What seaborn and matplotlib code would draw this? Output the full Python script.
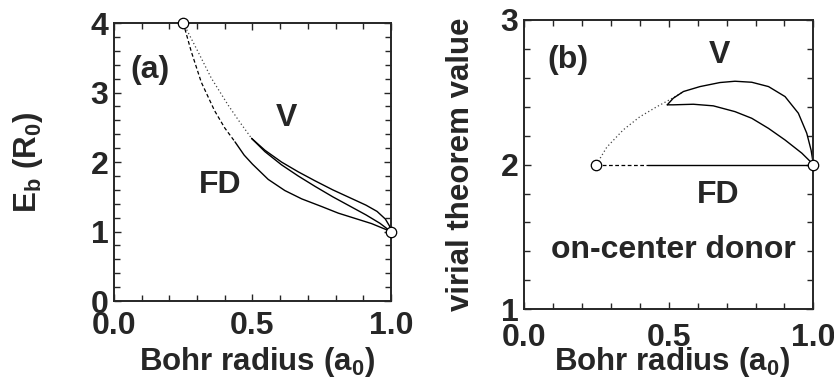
import numpy as np
import pandas as pd
import matplotlib
matplotlib.use("Agg")
import matplotlib.pyplot as plt
import seaborn as sns
from matplotlib.ticker import MultipleLocator, FormatStrFormatter

# panel (a) : binding energy vs Bohr radius
fd_dash_x = [0.25, 0.279, 0.315, 0.363, 0.40, 0.437]
fd_dash_y = [4.0, 3.59, 3.15, 2.74, 2.49, 2.29]
fd_solid_x = [0.437, 0.47, 0.50, 0.557, 0.617, 0.678, 0.75, 0.81, 0.87, 0.93, 1.0]
fd_solid_y = [2.29, 2.10, 1.97, 1.75, 1.59, 1.47, 1.36, 1.265, 1.19, 1.115, 1.0]
v_dot_x = [0.25, 0.303, 0.351, 0.412, 0.455, 0.497]
v_dot_y = [4.0, 3.59, 3.21, 2.82, 2.57, 2.34]
v_up_x = [0.497, 0.545, 0.605, 0.665, 0.726, 0.79, 0.85, 0.91, 0.95, 0.98, 0.995, 1.0]
v_up_y = [2.34, 2.17, 2.00, 1.86, 1.73, 1.60, 1.49, 1.38, 1.29, 1.18, 1.08, 1.0]
v_lo_x = [0.497, 0.545, 0.605, 0.665, 0.726, 0.79, 0.85, 0.91, 0.96, 1.0]
v_lo_y = [2.34, 2.15, 1.96, 1.80, 1.65, 1.50, 1.37, 1.24, 1.12, 1.0]
ends_a_x = [0.25, 1.0]
ends_a_y = [4.0, 1.0]

# panel (b) : virial theorem value
fdb_dash_x = [0.25, 0.43]
fdb_dash_y = [2.0, 2.0]
fdb_solid_x = [0.43, 1.0]
fdb_solid_y = [2.0, 2.0]
vb_dot_x = [0.25, 0.286, 0.343, 0.40, 0.459, 0.516, 0.551]
vb_dot_y = [2.0, 2.12, 2.24, 2.33, 2.40, 2.462, 2.505]
vb_up_x = [0.495, 0.516, 0.551, 0.608, 0.677, 0.729, 0.787, 0.845, 0.902, 0.948, 0.977, 0.992, 1.0]
vb_up_y = [2.413, 2.459, 2.505, 2.539, 2.567, 2.576, 2.569, 2.539, 2.47, 2.355, 2.217, 2.10, 2.0]
vb_lo_x = [0.495, 0.516, 0.585, 0.654, 0.729, 0.787, 0.845, 0.902, 0.96, 1.0]
vb_lo_y = [2.413, 2.413, 2.417, 2.406, 2.366, 2.32, 2.25, 2.17, 2.079, 2.0]
ends_b_x = [0.25, 1.0]
ends_b_y = [2.0, 2.0]

sns.set_theme(style="ticks")
plt.rcParams['font.family'] = ['Liberation Sans', 'DejaVu Sans']
plt.rcParams['font.weight'] = 'bold'
plt.rcParams['mathtext.fontset'] = 'custom'
plt.rcParams['mathtext.bf'] = 'Liberation Sans:bold'
plt.rcParams['mathtext.rm'] = 'Liberation Sans:bold'
plt.rcParams['mathtext.default'] = 'bf'

fig = plt.figure(figsize=(8.34, 3.90), dpi=100)
ax1 = fig.add_axes([0.1367, 0.228, 0.332, 0.713])
ax2 = fig.add_axes([0.6283, 0.207, 0.347, 0.742])


def curve(ax, x, y, style):
    df = pd.DataFrame({"x": x, "y": y})
    if style == "solid":
        sns.lineplot(data=df, x="x", y="y", ax=ax, color="black", lw=1.0,
                     sort=False, estimator=None)
    elif style == "dash":
        sns.lineplot(data=df, x="x", y="y", ax=ax, color="black", lw=0.9,
                     sort=False, estimator=None)
        ax.lines[-1].set_dashes([3, 2])
    else:
        sns.lineplot(data=df, x="x", y="y", ax=ax, color="#444444", lw=0.9,
                     sort=False, estimator=None)
        ax.lines[-1].set_dashes([1, 2])


def ends(ax, x, y):
    ax.plot(x, y, "o", ms=7.5, mfc="white", mec="black", mew=0.9,
            clip_on=False, zorder=5)


curve(ax1, fd_dash_x, fd_dash_y, "dash")
curve(ax1, fd_solid_x, fd_solid_y, "solid")
curve(ax1, v_dot_x, v_dot_y, "dot")
curve(ax1, v_up_x, v_up_y, "solid")
curve(ax1, v_lo_x, v_lo_y, "solid")
ends(ax1, ends_a_x, ends_a_y)

curve(ax2, fdb_dash_x, fdb_dash_y, "dash")
curve(ax2, fdb_solid_x, fdb_solid_y, "solid")
curve(ax2, vb_dot_x, vb_dot_y, "dot")
curve(ax2, vb_up_x, vb_up_y, "solid")
curve(ax2, vb_lo_x, vb_lo_y, "solid")
ends(ax2, ends_b_x, ends_b_y)

ax1.set_xlim(0, 1)
ax1.set_ylim(0, 4)
ax2.set_xlim(0, 1)
ax2.set_ylim(1, 3)

for ax, xpad in ((ax1, 7), (ax2, 10)):
    ax.xaxis.set_major_locator(MultipleLocator(0.5))
    ax.xaxis.set_minor_locator(MultipleLocator(0.1))
    ax.yaxis.set_major_locator(MultipleLocator(1))
    ax.yaxis.set_minor_locator(MultipleLocator(0.2))
    ax.xaxis.set_major_formatter(FormatStrFormatter("%.1f"))
    ax.tick_params(which="both", direction="in", top=True, right=True,
                   width=1.0, labelsize=23)
    ax.tick_params(axis="x", pad=xpad)
    ax.tick_params(axis="y", pad=4)
    ax.tick_params(which="major", length=5)
    ax.tick_params(which="minor", length=4)
    for s in ax.spines.values():
        s.set_linewidth(1.4)
    ax.set_xlabel("Bohr radius (a$_0$)", fontsize=22.5, fontweight="bold")

ax1.set_ylabel("E$_b$ (R$_0$)", fontsize=22.5, fontweight="bold")
ax2.set_ylabel("virial theorem value", fontsize=22.5, fontweight="bold")
ax1.xaxis.set_label_coords(0.516, -0.158)
ax2.xaxis.set_label_coords(0.51, -0.125)
ax1.yaxis.set_label_coords(-0.25, 0.5)
ax2.yaxis.set_label_coords(-0.165, 0.5)

fs = 23
ax1.text(0.13, 3.32, "(a)", fontsize=fs, fontweight="bold", ha="center", va="center")
ax1.text(0.623, 2.63, "V", fontsize=fs, fontweight="bold", ha="center", va="center")
ax1.text(0.383, 1.67, "FD", fontsize=fs, fontweight="bold", ha="center", va="center")

ax2.text(0.153, 2.72, "(b)", fontsize=fs, fontweight="bold", ha="center", va="center")
ax2.text(0.677, 2.758, "V", fontsize=fs, fontweight="bold", ha="center", va="center")
ax2.text(0.672, 1.79, "FD", fontsize=fs, fontweight="bold", ha="center", va="center")
ax2.text(0.516, 1.41, "on-center donor", fontsize=fs, fontweight="bold",
         ha="center", va="center")

fig.savefig("out.png", dpi=100)
